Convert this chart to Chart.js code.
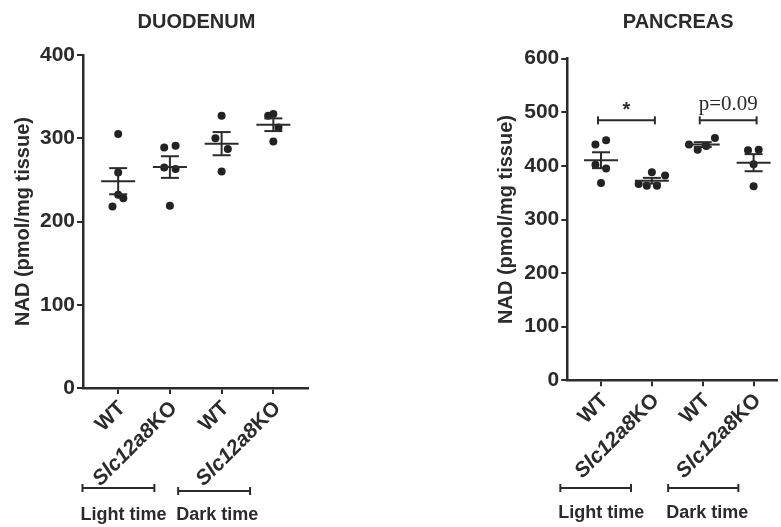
<!DOCTYPE html>
<html>
<head>
<meta charset="utf-8">
<script src="https://cdn.jsdelivr.net/npm/chart.js@4.4.1/dist/chart.umd.min.js"></script>
<style>
  html, body { margin: 0; padding: 0; background: #fff; }
  #wrap { position: relative; width: 781px; height: 527px; }
  .panel { position: absolute; top: 0; height: 527px; }
  #duo { left: 0; width: 330px; }
  #pan { left: 460px; width: 321px; }
</style>
</head>
<body>
<div id="wrap">
  <div class="panel" id="duo"><canvas id="duoChart"></canvas></div>
  <div class="panel" id="pan"><canvas id="panChart"></canvas></div>
</div>
<script>
/* NAD levels, duodenum vs pancreas — scatter dot plots with mean ± SEM */

const groups = ['WT', 'Slc12a8KO', 'WT', 'Slc12a8KO'];
const periods = ['Light time', 'Dark time'];

// NAD (pmol/mg tissue), one array per column
const duoWtLight = [305, 259, 232, 228, 218];
const duoKoLight = [289, 291, 265, 263, 219];
const duoWtDark = [327, 300, 287, 260];
const duoKoDark = [327, 329, 313, 296];

const panWtLight = [440, 448, 402, 395, 368];
const panKoLight = [388, 382, 366, 363, 363];
const panWtDark = [440, 430, 437, 452];
const panKoDark = [429, 430, 403, 362];

// sideways spread of the dots inside each column (fraction of a column)
const duoSpread = [[0, 0, 0, 0.1, -0.11], [-0.11, 0.11, -0.11, 0.11, 0], [0, -0.12, 0.12, 0], [-0.1, 0, 0.1, 0]];
const panSpread = [[-0.11, 0.1, -0.11, 0.1, 0], [0, 0.26, -0.26, -0.1, 0.1], [-0.27, -0.1, 0.07, 0.24], [-0.11, 0.1, 0, 0]];

const duoTicks = [0, 100, 200, 300, 400];
const panTicks = [0, 100, 200, 300, 400, 500, 600];

// pancreas comparisons: [column from, column to, label]
const panSig = [[1, 2, '*'], [3, 4, 'p=0.09']];
const panSigLevel = 485;

const INK = '#2b2b2b';
const FONT = '"Liberation Sans", Arial, Helvetica, sans-serif';

function line(ctx, x1, y1, x2, y2) {
    ctx.beginPath();
    ctx.moveTo(x1, y1);
    ctx.lineTo(x2, y2);
    ctx.stroke();
}

function drawGroupLabel(ctx, label) {
    const m = label.match(/^(Slc12a8)(.*)$/);
    ctx.font = 'bold 21px ' + FONT;
    if (!m) { ctx.fillText(label, 0, 0); return; }
    ctx.fillText(m[2], 0, 0);
    const w = ctx.measureText(m[2]).width;
    ctx.font = 'italic bold 21px ' + FONT;
    ctx.fillText(m[1], -w, 0);
}

function makeDecor(o) {
    return {
        id: 'panelDecor',
        afterDraw(chart) {
            const { ctx, chartArea: a, scales: { x, y } } = chart;
            ctx.save();
            ctx.strokeStyle = INK;
            ctx.fillStyle = INK;

            // mean ± SEM
            ctx.lineWidth = 2;
            o.values.forEach(function (vals, g) {
                const n = vals.length;
                const mean = vals.reduce((s, v) => s + v, 0) / n;
                const sd = Math.sqrt(vals.reduce((s, v) => s + (v - mean) * (v - mean), 0) / (n - 1));
                const se = sd / Math.sqrt(n);
                const cx = x.getPixelForValue(g + 1);
                const ym = y.getPixelForValue(mean);
                const yt = y.getPixelForValue(mean + se);
                const yb = y.getPixelForValue(mean - se);
                line(ctx, cx - 17, ym, cx + 17, ym);
                line(ctx, cx, yt, cx, yb);
                line(ctx, cx - 9, yt, cx + 9, yt);
                line(ctx, cx - 9, yb, cx + 9, yb);
            });

            // panel title
            ctx.font = 'bold 20px ' + FONT;
            ctx.textAlign = 'center';
            ctx.textBaseline = 'middle';
            ctx.fillText(o.title, (a.left + a.right) / 2 + o.titleDx, 22.5);

            // rotated column labels
            groups.forEach(function (g, i) {
                ctx.save();
                ctx.translate(x.getPixelForValue(i + 1) + 4, a.bottom + 17);
                ctx.rotate(-Math.PI / 4);
                ctx.textAlign = 'right';
                ctx.textBaseline = 'middle';
                drawGroupLabel(ctx, g);
                ctx.restore();
            });

            // light / dark brackets under the labels
            ctx.lineWidth = 2;
            ctx.font = 'bold 18px ' + FONT;
            ctx.textAlign = 'left';
            ctx.textBaseline = 'middle';
            periods.forEach(function (p, i) {
                const x1 = x.getPixelForValue(o.spans[i][0]);
                const x2 = x.getPixelForValue(o.spans[i][1]);
                const by = o.bracketY[i];
                line(ctx, x1, by, x2, by);
                line(ctx, x1, by - 4, x1, by + 4);
                line(ctx, x2, by - 4, x2, by + 4);
                ctx.fillText(p, x1 - 2, o.periodY);
            });

            // significance brackets
            (o.sig || []).forEach(function (s) {
                const x1 = x.getPixelForValue(s[0]) - 3;
                const x2 = x.getPixelForValue(s[1]) + 3;
                const sy = y.getPixelForValue(o.sigLevel);
                line(ctx, x1, sy, x2, sy);
                line(ctx, x1, sy - 4, x1, sy + 4);
                line(ctx, x2, sy - 4, x2, sy + 4);
                ctx.textAlign = 'center';
                ctx.textBaseline = 'alphabetic';
                if (s[2] === '*') {
                    ctx.font = 'bold 20px ' + FONT;
                    ctx.fillText(s[2], (x1 + x2) / 2, sy - 4);
                } else {
                    ctx.font = '21px "Liberation Serif", "Times New Roman", serif';
                    ctx.fillText(s[2], (x1 + x2) / 2, sy - 10);
                }
            });
            ctx.restore();
        }
    };
}

function makeChart(id, o) {
    const sets = o.values.map(function (vals, g) {
        return {
            data: vals.map(function (v, i) { return { x: g + 1 + o.spread[g][i], y: v }; }),
            pointRadius: 4,
            pointBackgroundColor: '#222',
            pointBorderWidth: 0,
            showLine: false
        };
    });
    const tickFont = { family: FONT, size: 21, weight: 'bold' };

    return new Chart(document.getElementById(id), {
        type: 'scatter',
        data: { datasets: sets },
        options: {
            responsive: true,
            maintainAspectRatio: false,
            animation: false,
            layout: { padding: { left: 0, top: o.top, right: o.right, bottom: o.bottom } },
            plugins: { legend: { display: false }, tooltip: { enabled: false } },
            scales: {
                x: {
                    type: 'linear',
                    min: o.xMin,
                    max: o.xMax,
                    afterBuildTicks: function (s) { s.ticks = groups.map(function (_, i) { return { value: i + 1 }; }); },
                    afterFit: function (s) { s.height = 0; },
                    ticks: { display: false },
                    grid: { drawOnChartArea: false, drawTicks: true, tickLength: 6, color: INK, lineWidth: 2 },
                    border: { color: INK, width: 2.5 }
                },
                y: {
                    min: 0,
                    max: o.yTicks[o.yTicks.length - 1],
                    afterBuildTicks: function (s) { s.ticks = o.yTicks.map(function (v) { return { value: v }; }); },
                    afterFit: function (s) { s.width = o.axisW; },
                    ticks: { color: INK, font: tickFont, padding: 2 },
                    grid: { drawOnChartArea: false, drawTicks: true, tickLength: 6, color: INK, lineWidth: 2 },
                    border: { color: INK, width: 2.5 },
                    title: {
                        display: true,
                        text: 'NAD (pmol/mg tissue)',
                        color: INK,
                        font: { family: FONT, size: 20, weight: 'bold' },
                        padding: { top: o.titlePad, bottom: 0 }
                    }
                }
            }
        },
        plugins: [makeDecor(o)]
    });
}

makeChart('duoChart', {
    title: 'DUODENUM',
    titleDx: 1,
    values: [duoWtLight, duoKoLight, duoWtDark, duoKoDark],
    spread: duoSpread,
    yTicks: duoTicks,
    xMin: 0.32, xMax: 4.67,
    axisW: 83, titlePad: 11,
    top: 55, right: 22, bottom: 139,
    spans: [[0.31, 1.70], [2.16, 3.55]],
    bracketY: [488, 491],
    periodY: 515.5
});

makeChart('panChart', {
    title: 'PANCREAS',
    titleDx: 6,
    values: [panWtLight, panKoLight, panWtDark, panKoDark],
    spread: panSpread,
    yTicks: panTicks,
    xMin: 0.337, xMax: 4.46,
    axisW: 107.3, titlePad: 34.7,
    top: 58.7, right: 0, bottom: 146.7,
    spans: [[0.2, 1.59], [2.32, 3.70]],
    bracketY: [488, 488],
    periodY: 513.5,
    sig: panSig,
    sigLevel: panSigLevel
});
</script>
</body>
</html>
